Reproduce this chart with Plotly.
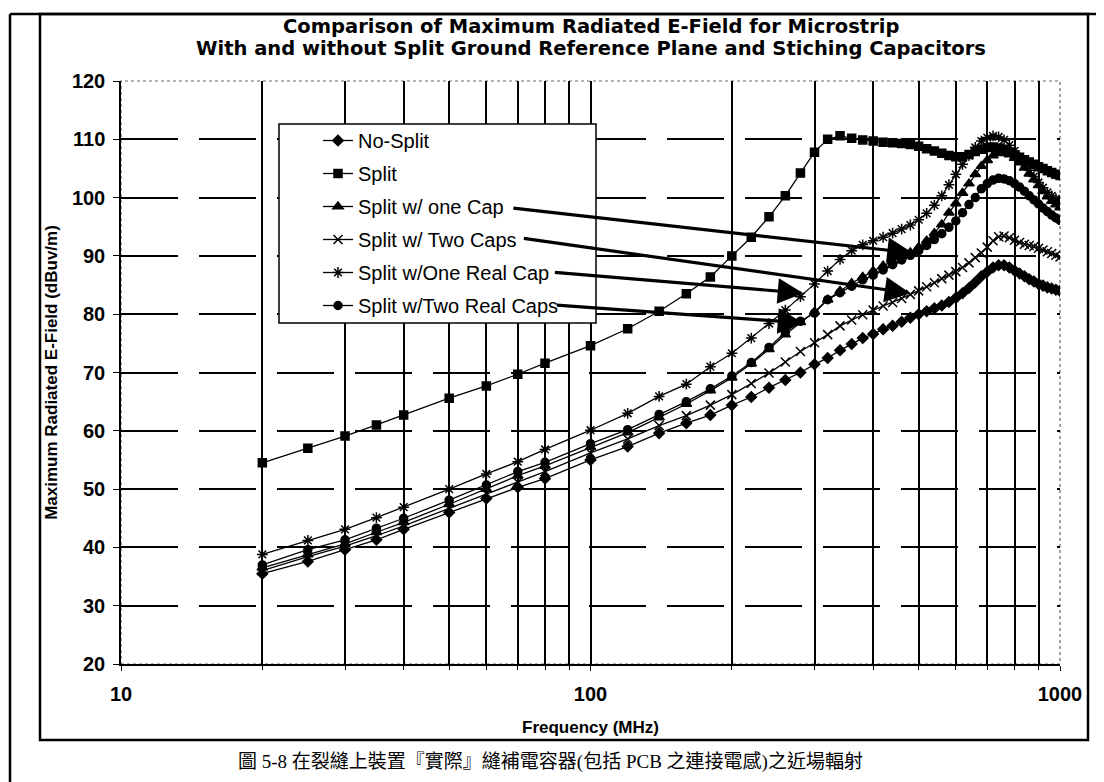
import math
import plotly.graph_objects as go

# frequency points (MHz)
freq = [20, 25, 30, 35, 40, 50, 60, 70, 80,
        100, 120, 140, 160, 180, 200, 220, 240, 260, 280, 300,
        320, 340, 360, 380, 400, 420, 440, 460, 480, 500,
        520, 540, 560, 580, 600, 620, 640, 660, 680, 700,
        720, 740, 760, 780, 800, 820, 840, 860, 880, 900,
        920, 940, 960, 980, 1000]

no_split = [35.5, 37.6, 39.6, 41.3, 43.1, 46.0, 48.4, 50.3, 51.8,
            55.0, 57.3, 59.6, 61.3, 62.7, 64.4, 65.8, 67.4, 68.7, 70.0, 71.4,
            72.5, 73.8, 74.9, 75.9, 76.6, 77.4, 78.0, 78.7, 79.4, 80.0,
            80.5, 81.0, 81.5, 82.1, 82.8, 83.6, 84.5, 85.5, 86.5, 87.3,
            88.0, 88.4, 88.4, 88.0, 87.5, 87.0, 86.5, 86.0, 85.6, 85.2,
            84.9, 84.6, 84.4, 84.2, 84.0]

split = [54.5, 57.0, 59.1, 61.0, 62.7, 65.6, 67.7, 69.7, 71.6,
         74.6, 77.5, 80.5, 83.5, 86.4, 90.0, 93.2, 96.7, 100.3, 104.2, 107.8,
         110.0, 110.6, 110.2, 109.9, 109.7, 109.5, 109.4, 109.3, 109.1, 108.8,
         108.4, 108.0, 107.6, 107.2, 107.0, 107.0, 107.4, 107.9, 108.3, 108.6,
         108.7, 108.5, 108.2, 107.8, 107.3, 106.9, 106.5, 106.1, 105.7, 105.3,
         105.0, 104.6, 104.3, 104.0, 103.8]

one_cap = [36.5, 38.8, 40.6, 42.6, 44.3, 47.4, 50.0, 52.3, 54.0,
           57.2, 59.7, 62.3, 64.6, 66.9, 69.1, 71.5, 74.0, 76.5, 78.6, 80.4,
           82.5, 84.0, 85.3, 86.4, 87.4, 88.3, 89.1, 89.9, 90.6, 91.5,
           92.6, 93.9, 95.4, 97.4, 99.0, 100.8, 102.4, 104.0, 105.4, 106.4,
           107.2, 107.6, 107.7, 107.4, 106.8, 106.0, 105.1, 104.1, 103.1, 102.1,
           101.1, 100.2, 99.4, 98.8, 98.3]

two_caps = [36.0, 38.4, 40.2, 42.0, 43.7, 46.7, 49.2, 51.2, 53.0,
            56.2, 58.6, 60.9, 62.6, 64.4, 66.2, 68.1, 69.9, 71.8, 73.6, 75.1,
            76.5, 78.0, 79.0, 79.9, 80.7, 81.4, 82.0, 82.7, 83.4, 84.0,
            84.7, 85.4, 86.1, 86.7, 87.3, 88.0, 88.8, 89.7, 90.5, 91.5,
            92.6, 93.3, 93.4, 93.1, 92.7, 92.3, 92.0, 91.8, 91.6, 91.3,
            91.0, 90.7, 90.4, 90.1, 89.8]

one_real_cap = [38.8, 41.2, 43.1, 45.1, 46.9, 50.0, 52.6, 54.7, 56.8,
                60.1, 63.0, 65.9, 68.0, 71.0, 73.3, 75.9, 78.4, 80.7, 83.0, 85.2,
                87.4, 89.4, 90.9, 91.9, 92.6, 93.2, 93.9, 94.6, 95.3, 96.2,
                97.3, 98.7, 100.3, 102.2, 104.0, 105.7, 107.2, 108.6, 109.7, 110.3,
                110.6, 110.4, 109.9, 109.0, 108.0, 106.9, 105.8, 104.7, 103.6, 102.6,
                101.7, 100.9, 100.3, 99.8, 99.4]

two_real_caps = [37.0, 39.6, 41.3, 43.3, 45.0, 48.1, 50.7, 53.0, 54.6,
                 57.8, 60.2, 62.8, 65.0, 67.2, 69.4, 71.7, 74.3, 76.9, 78.8, 80.2,
                 82.5, 83.7, 84.8, 85.9, 86.7, 87.6, 88.5, 89.3, 90.1, 90.9,
                 91.8, 92.8, 93.8, 94.9, 96.0, 97.4, 98.8, 100.0, 101.5, 102.4,
                 103.0, 103.3, 103.2, 102.9, 102.4, 101.8, 101.1, 100.3, 99.6, 98.9,
                 98.2, 97.6, 97.0, 96.5, 96.1]

names = ["No-Split", "Split", "Split w/ one Cap", "Split w/ Two Caps",
         "Split w/One Real Cap", "Split w/Two Real Caps"]
series = [no_split, split, one_cap, two_caps, one_real_cap, two_real_caps]
symbols = ["diamond", "square", "triangle-up", "x-thin-open", "asterisk-open", "circle"]
sizes = [8, 8, 9, 9, 9, 8]

minor_x = [20, 30, 40, 50, 60, 70, 80, 90, 200, 300, 400, 500, 600, 700, 800, 900]

# arrows: (tip freq, tip value, tail dx px, tail dy px)
arrows = [(486, 90.5, -401, -45), (480, 83.6, -388, -55),
          (284, 83.6, -250, -21), (284, 78.5, -248, -18)]

title1 = "Comparison of Maximum Radiated E-Field for Microstrip"
title2 = "With and without Split Ground Reference Plane and Stiching Capacitors"
caption = "圖 5-8 在裂縫上裝置『實際』縫補電容器(包括 PCB 之連接電感)之近場輻射"

font = "Liberation Sans, Arial, sans-serif"
bold_wide = "DejaVu Sans, sans-serif"


# page coordinates (reference pixels) -> paper coordinates of the plot area
def px(v):
    return (v - 121) / 939.0


def py(v):
    return (664 - v) / 583.0


fig = go.Figure()
for i, (nm, ys) in enumerate(zip(names, series)):
    fig.add_trace(go.Scatter(
        x=freq, y=ys, name=nm, mode="lines+markers", legendgroup=str(i),
        line=dict(color="black", width=1.3),
        marker=dict(symbol=symbols[i], size=sizes[i], color="black",
                    line=dict(color="black", width=1.5)),
    ))

annots = []
for f, v, dx, dy in arrows:
    annots.append(dict(x=math.log10(f), y=v, xref="x", yref="y", ax=dx, ay=dy,
                       text="", showarrow=True, arrowhead=2, arrowsize=1.6,
                       arrowwidth=3.2, arrowcolor="black", standoff=0))
annots.append(dict(x=0.5, y=py(27), xref="paper", yref="paper", text=title1,
                   showarrow=False, xanchor="center", yanchor="middle",
                   font=dict(family=bold_wide, size=19.5, weight="bold", color="black")))
annots.append(dict(x=0.5, y=py(48), xref="paper", yref="paper", text=title2,
                   showarrow=False, xanchor="center", yanchor="middle",
                   font=dict(family=bold_wide, size=19.5, weight="bold", color="black")))
annots.append(dict(x=px(550), y=py(762), xref="paper", yref="paper", text=caption,
                   showarrow=False, xanchor="center", yanchor="middle",
                   font=dict(family="Liberation Serif, Noto Sans CJK TC",
                             size=19, color="black")))

shapes = [
    # figure frame
    dict(type="rect", xref="paper", yref="paper", x0=px(40), x1=px(1088),
         y0=py(740), y1=py(14), line=dict(color="black", width=2.5)),
    dict(type="line", xref="paper", yref="paper", x0=px(10), x1=px(10),
         y0=py(790), y1=py(14), line=dict(color="black", width=2.5)),
    dict(type="line", xref="paper", yref="paper", x0=px(10), x1=px(1110),
         y0=py(14), y1=py(14), line=dict(color="black", width=2.5)),
    # plot border top/right
    dict(type="rect", xref="paper", yref="paper", x0=0, x1=1, y0=0, y1=1,
         line=dict(color="#666", width=1.2, dash="dot"), layer="below"),
    # legend box
    dict(type="rect", xref="paper", yref="paper", x0=px(279), x1=px(596),
         y0=py(323), y1=py(124), fillcolor="white",
         line=dict(color="black", width=1.5), layer="above"),
]

# the page adds an 8px body margin, so the figure is 8px smaller
fig.update_layout(
    width=1096, height=774,
    margin=dict(l=113, r=44, t=73, b=118),
    paper_bgcolor="white", plot_bgcolor="white",
    font=dict(family=font, color="black"),
    showlegend=True,
    legend=dict(x=px(318), y=py(121), xanchor="left", yanchor="top",
                bgcolor="rgba(0,0,0,0)", borderwidth=0, tracegroupgap=4,
                font=dict(size=20, family=font)),
    shapes=shapes, annotations=annots,
)

fig.update_xaxes(
    type="log", range=[1, 3], tickvals=[10, 100, 1000], ticktext=["10", "100", "1000"],
    showline=True, linecolor="black", linewidth=1.5,
    ticks="outside", ticklen=5, tickcolor="black", ticklabelstandoff=6,
    tickfont=dict(size=20, weight="bold"),
    showgrid=True, gridcolor="black", gridwidth=1.5,
    minor=dict(tickvals=minor_x, showgrid=True, gridcolor="black", gridwidth=1.5,
               ticks="outside", ticklen=4, tickcolor="black"),
    title=dict(text="Frequency (MHz)", font=dict(size=17, weight="bold"), standoff=17),
    zeroline=False,
)
fig.update_yaxes(
    range=[20, 120], dtick=10,
    showline=True, linecolor="black", linewidth=1.5,
    ticks="outside", ticklen=6, tickcolor="black", ticklabelstandoff=4,
    tickfont=dict(size=20, weight="bold"),
    showgrid=True, gridcolor="black", gridwidth=1.5, griddash="57px,21px",
    title=dict(text="Maximum Radiated E-Field (dBuv/m)", font=dict(size=17, weight="bold"),
               standoff=10),
    zeroline=False,
)

fig.write_html("out.html")
